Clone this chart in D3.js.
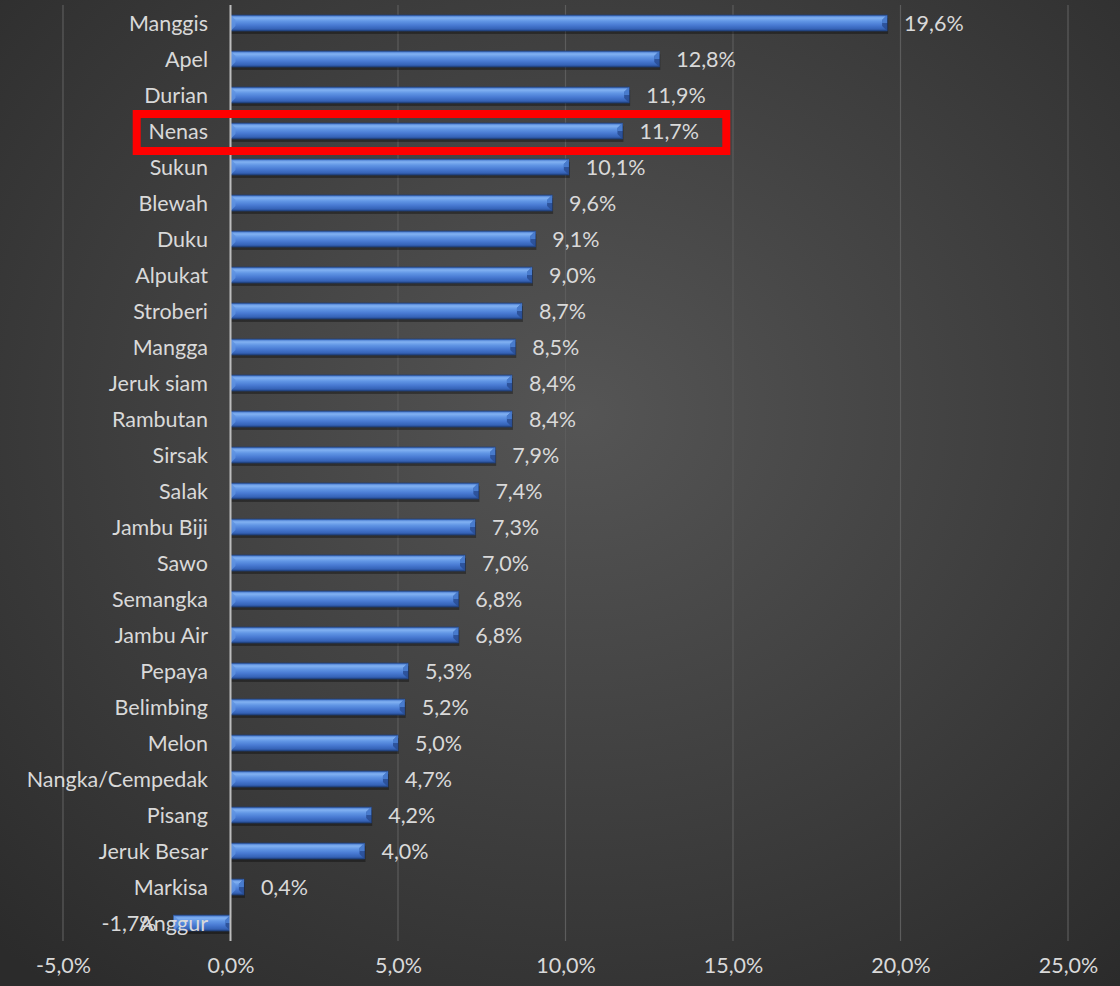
<!DOCTYPE html>
<html><head><meta charset="utf-8">
<script src="https://cdn.jsdelivr.net/npm/d3@7"></script>
<style>html,body{margin:0;padding:0;background:#333;}svg{display:block;}</style>
</head><body><svg id="c" width="1120" height="986"></svg>
<script>
const categories = ["Manggis","Apel","Durian","Nenas","Sukun","Blewah","Duku","Alpukat","Stroberi","Mangga","Jeruk siam ","Rambutan","Sirsak","Salak","Jambu Biji","Sawo","Semangka","Jambu Air","Pepaya","Belimbing","Melon","Nangka/Cempedak","Pisang","Jeruk Besar","Markisa","Anggur"];
const values = [19.6,12.8,11.9,11.7,10.1,9.6,9.1,9.0,8.7,8.5,8.4,8.4,7.9,7.4,7.3,7.0,6.8,6.8,5.3,5.2,5.0,4.7,4.2,4.0,0.4,-1.7];
const tickValues = [-5,0,5,10,15,20,25];
const highlight = "Nenas";
const highlightRange = [-2.8, 14.8];

const svg = d3.select("#c");
const W = 1120, H = 986;
const defs = svg.append("defs");
const bg = defs.append("radialGradient").attr("id","bg").attr("cx","52%").attr("cy","42%").attr("r","75%");
bg.append("stop").attr("offset","0%").attr("stop-color","#555555");
bg.append("stop").attr("offset","100%").attr("stop-color","#2b2b2b");
const bar = defs.append("linearGradient").attr("id","bar").attr("x1",0).attr("y1",0).attr("x2",0).attr("y2",1);
[["0%","#3e70c8"],["18%","#82b2f2"],["38%","#6196e5"],["62%","#4a7cd4"],["85%","#3765ba"],["100%","#25498e"]]
  .forEach(([o,c])=>bar.append("stop").attr("offset",o).attr("stop-color",c));

svg.append("rect").attr("width",W).attr("height",H).attr("fill","url(#bg)");

const x = d3.scaleLinear().domain([-5,25]).range([63,1068]);
const y = d3.scaleBand().domain(categories).range([5,941]).paddingInner(0.56).paddingOuter(0.28);

const fmt = v => d3.format(".1f")(v).replace(".",",").replace("\u2212","-") + "%";

// gridlines
svg.append("g").selectAll("line").data(tickValues.filter(t=>t!==0)).join("line")
  .attr("x1",d=>x(d)).attr("x2",d=>x(d)).attr("y1",5).attr("y2",941)
  .attr("stroke","#5c5c5c").attr("stroke-width",1.2);

// bars
const g = svg.append("g");
const bh = y.bandwidth();
const b = 5;
categories.forEach((c,i)=>{
  const v = values[i];
  const x0 = Math.min(x(0),x(v)), x1 = Math.max(x(0),x(v));
  const y0 = y(c), y1 = y0 + bh;
  const grp = g.append("g");
  grp.append("rect").attr("x",x0).attr("y",y0+2).attr("width",x1-x0).attr("height",bh).attr("fill","rgba(0,0,0,0.35)").attr("transform","translate(1,1)");
  grp.append("rect").attr("x",x0).attr("y",y0).attr("width",x1-x0).attr("height",bh).attr("fill","url(#bar)").attr("stroke","#1f3f7a").attr("stroke-width",0.8);
  const bb = Math.min(b,(x1-x0)/2);
  grp.append("path").attr("d",`M${x0},${y0}L${x0+bb},${y0+bb}L${x0+bb},${y1-bb}L${x0},${y1}Z`).attr("fill","#5f92e0").attr("opacity",0.8);
  grp.append("path").attr("d",`M${x1},${y0}L${x1-bb},${y0+bb}L${x1-bb},${y1-bb}L${x1},${y1}Z`).attr("fill","#2a4f96").attr("opacity",0.9);
  grp.append("path").attr("d",`M${x1},${y0}L${x1-bb},${y0+bb}L${x1-bb},${y0+bh/2}L${x1},${y0+bh/2}Z`).attr("fill","#4f84d8").attr("opacity",0.8);
});

// zero axis
svg.append("line").attr("x1",x(0)).attr("x2",x(0)).attr("y1",5).attr("y2",941).attr("stroke","#bdbdbd").attr("stroke-width",2);

const font = "Lato, 'Open Sans', sans-serif";
const fs = 21.5;
// category labels
svg.append("g").selectAll("text").data(categories).join("text")
  .attr("x",208).attr("y",d=>y(d)+bh/2).attr("dy","0.36em").attr("text-anchor","end")
  .attr("font-family",font).attr("font-size",fs).attr("fill","#d9d9d9").text(d=>d);

// value labels
svg.append("g").selectAll("text").data(categories).join("text")
  .attr("x",(d,i)=>values[i]>=0 ? x(values[i])+17 : x(values[i])-17)
  .attr("text-anchor",(d,i)=>values[i]>=0?"start":"end")
  .attr("y",d=>y(d)+bh/2).attr("dy","0.36em")
  .attr("font-family",font).attr("font-size",fs).attr("fill","#d9d9d9").text((d,i)=>fmt(values[i]));

// x axis ticks
const ax = svg.append("g").attr("transform","translate(0,969)").call(d3.axisBottom(x).tickValues(tickValues).tickSize(0).tickFormat(fmt));
ax.select(".domain").remove();
ax.selectAll("text").attr("font-family",font).attr("font-size",fs).attr("fill","#d9d9d9").attr("dy","0.05em");

// highlight rect
const hy = y(highlight)+bh/2;
svg.append("rect").attr("x",x(highlightRange[0])).attr("y",hy-17)
  .attr("width",x(highlightRange[1])-x(highlightRange[0])).attr("height",37)
  .attr("fill","none").attr("stroke","#ff0000").attr("stroke-width",8);
</script></body></html>
